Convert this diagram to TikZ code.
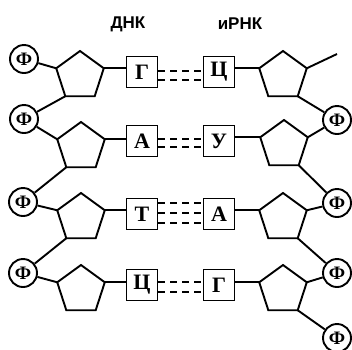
\documentclass[tikz,border=0pt]{standalone}
\usepackage{fontspec}
\setmainfont{Liberation Serif}
\newfontfamily\headfont{Liberation Sans}
\usetikzlibrary{shapes.geometric}

\begin{document}
\begin{tikzpicture}[x=1pt, y=-1pt, line width=1.9pt,
	base/.style = {draw, rectangle, minimum size = 31pt, inner sep = 0pt, font = \fontsize{22}{22}\selectfont\bfseries},
	sugar/.style = {draw, regular polygon, regular polygon sides = 5, minimum size = 50pt, inner sep = 0pt, outer sep = 0pt},
	phos/.style = {draw, circle, minimum size = 28pt, inner sep = 0pt, font = \fontsize{19}{19}\selectfont\bfseries},
	head/.style = {font = \headfont\fontsize{17}{17}\selectfont\bfseries},
	bond/.style = {line width = 1.6pt, dash pattern = on 7pt off 5pt}]
	\useasboundingbox (0,0) rectangle (352,349);
	\node[head] (dna) at (128,24) {ДНК};
	\node[head] (rna) at (240,24) {иРНК};
	% bases
	\node[base] (g1) at (142,72) {Г};
	\node[base] (c1) at (219,72) {Ц};
	\node[base] (a2) at (142,141) {А};
	\node[base] (u2) at (219,141) {У};
	\node[base] (t3) at (142,214) {Т};
	\node[base] (a3) at (219,214) {А};
	\node[base] (c4) at (142,285) {Ц};
	\node[base] (g4) at (219,285) {Г};
	% sugars
	\node[sugar] (s1) at (80,76) {};
	\node[sugar] (s2) at (81,147) {};
	\node[sugar] (s3) at (81,218) {};
	\node[sugar] (s4) at (81,290) {};
	\node[sugar] (r1) at (283,76) {};
	\node[sugar] (r2) at (284,145) {};
	\node[sugar] (r3) at (283,218) {};
	\node[sugar] (r4) at (283,290) {};
	% phosphates
	\node[phos] (p1) at (24,59) {Ф};
	\node[phos] (p2) at (24,119) {Ф};
	\node[phos] (p3) at (23,202) {Ф};
	\node[phos] (p4) at (23,273) {Ф};
	\node[phos] (q1) at (337,120) {Ф};
	\node[phos] (q2) at (337,203) {Ф};
	\node[phos] (q3) at (337,273) {Ф};
	\node[phos] (q4) at (337,338) {Ф};
	\coordinate (tail) at (337,54);
	% DNA strand
	\draw[] (p1) -- (s1.corner 2);
	\draw[] (s1.corner 3) -- (p2);
	\draw[] (p2) -- (s2.corner 2);
	\draw[] (s2.corner 3) -- (p3);
	\draw[] (p3) -- (s3.corner 2);
	\draw[] (s3.corner 3) -- (p4);
	\draw[] (p4) -- (s4.corner 2);
	% RNA strand
	\draw[] (r1.corner 5) -- (tail);
	\draw[] (r1.corner 4) -- (q1);
	\draw[] (q1) -- (r2.corner 5);
	\draw[] (r2.corner 4) -- (q2);
	\draw[] (q2) -- (r3.corner 5);
	\draw[] (r3.corner 4) -- (q3);
	\draw[] (q3) -- (r4.corner 5);
	\draw[] (r4.corner 4) -- (q4);
	% sugar to base
	\draw[] (s1.corner 5) -- (s1.corner 5 -| g1.west);
	\draw[] (s2.corner 5) -- (s2.corner 5 -| a2.west);
	\draw[] (s3.corner 5) -- (s3.corner 5 -| t3.west);
	\draw[] (s4.corner 5) -- (s4.corner 5 -| c4.west);
	\draw[] (r1.corner 2) -- (r1.corner 2 -| c1.east);
	\draw[] (r2.corner 2) -- (r2.corner 2 -| u2.east);
	\draw[] (r3.corner 2) -- (r3.corner 2 -| a3.east);
	\draw[] (r4.corner 2) -- (r4.corner 2 -| g4.east);
	% hydrogen bonds
	\draw[bond] ([yshift=1pt]g1.east) -- ([yshift=1pt]c1.west);
	\draw[bond] ([yshift=-8pt]g1.east) -- ([yshift=-8pt]c1.west);
	\draw[bond] ([yshift=2pt]a2.east) -- ([yshift=2pt]u2.west);
	\draw[bond] ([yshift=-6pt]a2.east) -- ([yshift=-6pt]u2.west);
	\draw[bond] ([yshift=11pt]t3.east) -- ([yshift=11pt]a3.west);
	\draw[bond] ([yshift=1pt]t3.east) -- ([yshift=1pt]a3.west);
	\draw[bond] ([yshift=-9pt]t3.east) -- ([yshift=-9pt]a3.west);
	\draw[bond] ([yshift=3pt]c4.east) -- ([yshift=3pt]g4.west);
	\draw[bond] ([yshift=-7pt]c4.east) -- ([yshift=-7pt]g4.west);
\end{tikzpicture}
\end{document}
